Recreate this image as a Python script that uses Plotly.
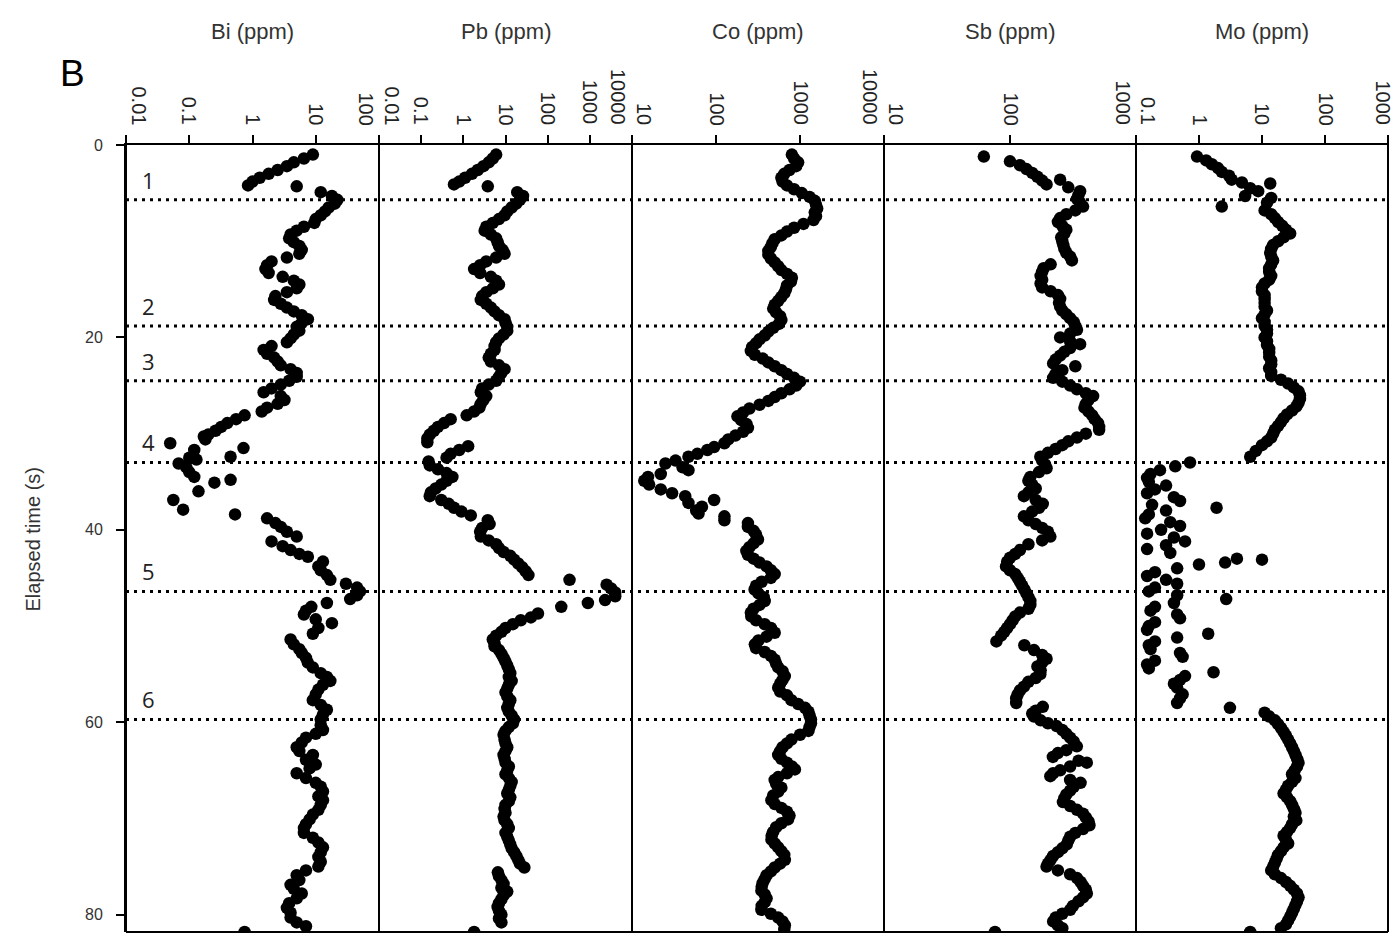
import numpy as np
import plotly.graph_objects as go

# ---------------- data (elapsed time s, concentration ppm) ----------------
bi_t = [1.0,1.4,1.8,2.2,2.6,3.0,3.4,3.8,4.2,4.3,4.9,5.3,5.7,6.1,6.5,6.9,7.3,7.7,8.1,8.5,8.9,9.3,9.7,10.1,10.5,10.9,11.3,11.7,12.1,12.5,12.9,13.3,13.7,14.1,14.5,14.9,15.3,15.7,16.1,16.5,16.9,17.3,17.7,18.1,18.5,18.9,19.3,19.7,20.1,20.5,20.9,21.3,21.7,22.1,22.5,22.9,23.3,23.7,24.1,24.5,24.9,25.3,25.7,26.1,26.5,26.9,27.3,27.7,28.1,28.5,28.9,29.3,29.7,30.1,30.3,30.6,31.0,31.5,31.7,32.4,32.5,32.7,33.1,33.5,34.0,34.5,34.8,35.1,36.0,36.9,37.9,38.4,38.8,39.3,39.7,40.2,40.7,41.2,41.7,42.1,42.5,42.8,43.3,43.8,44.2,44.7,45.2,45.6,46.0,46.4,46.8,47.2,47.6,48.0,48.4,48.8,49.3,49.7,50.2,50.8,51.4,51.9,52.4,52.8,53.3,53.8,54.3,54.9,55.3,55.7,56.1,56.6,57.1,57.7,58.2,58.7,59.2,59.7,60.3,60.8,61.2,61.6,62.1,62.6,63.0,63.4,63.9,64.4,64.8,65.3,65.8,66.3,66.7,67.2,67.7,68.1,68.6,69.1,69.6,70.1,70.6,71.0,71.5,72.0,72.5,73.0,73.5,74.0,74.5,75.0,75.4,75.9,76.4,76.9,77.3,77.8,78.3,78.8,79.3,79.8,80.3,80.8,81.2,81.8]
bi_ppm = [9.0,6.5,4.5,3.5,2.5,1.8,1.3,1.0,0.85,5.0,12,18,22,20,16,14,12,10,9.5,6.5,5.0,4.0,3.8,4.5,5.5,6.0,5.5,3.5,2.0,1.7,1.6,1.8,3.0,4.5,5.5,5.0,3.5,2.3,2.2,2.8,3.5,4.5,6.0,7.5,6.0,5.0,5.5,4.5,4.0,3.5,2.0,1.5,1.7,2.2,2.5,2.8,4.0,5.0,5.0,3.8,2.8,2.0,1.5,2.8,3.2,2.5,1.7,1.4,0.75,0.55,0.4,0.32,0.26,0.2,0.17,0.18,0.05,0.72,0.12,0.45,0.1,0.13,0.068,0.09,0.1,0.12,0.45,0.25,0.14,0.056,0.08,0.53,1.7,2.3,2.8,3.5,5.0,2.0,3.0,4.0,5.5,7.5,13,11,12,15,17,30,45,50,45,35,15,8.5,7.0,6.5,10,18,11,9.0,4.0,4.5,5.5,6.0,7.0,7.5,9.0,12,15,17,13,11,10,9.0,12,15,13,12,12,13,10,7.0,6.0,5.0,5.5,9.0,7.0,10,8.0,5.0,7.0,10,12,13,11,13,12,11,9.0,8.0,7.0,6.5,6.5,9.0,11,13,12,11,12,11,7.0,5.0,5.5,4.0,4.5,6.0,5.0,3.8,3.5,4.0,4.0,5.0,7.0,0.75]

pb_t = [1.0,1.4,1.8,2.2,2.6,3.0,3.4,3.8,4.1,4.3,4.9,5.3,5.7,6.1,6.5,6.9,7.3,7.7,8.1,8.5,8.9,9.3,9.7,10.1,10.5,10.9,11.3,11.7,12.1,12.5,12.9,13.3,13.7,14.1,14.5,14.9,15.3,15.7,16.1,16.5,16.9,17.3,17.7,18.1,18.5,18.9,19.3,19.7,20.1,20.5,20.9,21.3,21.7,22.1,22.5,22.9,23.3,23.7,24.1,24.5,24.9,25.3,25.7,26.1,26.5,26.9,27.3,27.7,28.1,28.5,28.9,29.3,29.7,30.1,30.5,30.9,31.3,31.7,32.1,32.5,32.9,33.3,33.7,34.1,34.5,34.9,35.3,35.7,36.1,36.5,36.9,37.3,37.7,38.1,38.5,39.0,39.4,39.8,40.2,40.7,41.1,41.5,41.9,42.3,42.7,43.1,43.5,43.9,44.3,44.7,45.2,45.7,46.1,46.5,46.9,47.3,47.6,48.0,48.7,49.1,49.4,49.8,50.2,50.6,51.0,51.4,51.8,52.1,52.5,52.9,53.3,53.7,54.1,54.5,54.9,55.3,55.7,56.1,56.5,56.9,57.3,57.7,58.1,58.5,58.9,59.3,59.7,60.1,60.5,60.9,61.3,61.8,62.2,62.6,63.0,63.4,63.8,64.2,64.6,65.0,65.4,65.8,66.2,66.6,67.0,67.4,67.8,68.2,68.6,69.0,69.4,69.8,70.2,70.6,71.0,71.5,71.9,72.3,72.7,73.1,73.5,73.9,74.3,74.7,75.1,75.6,76.0,76.4,76.8,77.2,77.6,78.0,78.4,78.8,79.2,79.6,80.0,80.4,80.8,81.8]
pb_ppm = [6.0,5.0,4.0,3.0,2.2,1.6,1.1,0.8,0.6,3.8,19,26,22,18,14,11,9.5,7.0,5.0,3.5,3.2,4.5,6.0,6.5,7.0,8.5,9.5,6.0,3.5,2.5,1.8,2.5,4.5,6.0,7.0,5.0,3.5,2.8,2.6,3.5,4.5,5.5,7.0,9.5,10,11,11,9.0,7.0,6.0,5.5,5.5,4.5,4.0,4.5,7.0,9.5,8.0,7.0,6.0,4.0,2.8,2.6,3.5,3.0,2.6,2.4,1.8,1.2,0.5,0.35,0.25,0.2,0.16,0.14,0.14,1.3,0.8,0.5,0.4,0.15,0.16,0.25,0.4,0.55,0.4,0.3,0.22,0.17,0.16,0.3,0.45,0.6,0.9,1.5,3.8,4.2,2.8,2.5,2.6,4.0,6.0,7.0,9.0,13,16,20,25,30,35,330,2500,3200,4000,4000,2300,900,210,59,40,23,15,10,8.0,6.0,5.0,5.5,5.5,7.0,8.0,9.0,10,11,12,13,12,14,12,11,10,11,13,12,11,12,14,16,15,12,10,9.0,9.5,10,11,10,9.0,9.5,10,12,11,10,12,14,13,12,11,13,12,10,9.5,10,9.0,9.5,11,12,10,11,12,13,14,16,18,20,22,28,6.6,7.0,8.0,9.0,8.0,11,9.0,8.0,7.0,6.5,7.0,8.0,7.0,8.0,1.8]

co_t = [1.0,1.4,1.8,2.2,2.6,3.0,3.4,3.8,4.2,4.6,5.0,5.4,5.8,6.2,6.6,7.0,7.4,7.8,8.2,8.6,9.0,9.4,9.8,10.2,10.6,11.0,11.4,11.8,12.2,12.6,13.0,13.4,13.8,14.2,14.6,15.0,15.4,15.8,16.2,16.6,17.0,17.4,17.8,18.2,18.6,19.0,19.4,19.8,20.2,20.6,21.0,21.4,21.8,22.2,22.6,23.0,23.4,23.8,24.2,24.6,25.0,25.4,25.8,26.2,26.6,27.0,27.4,27.8,28.2,28.6,29.0,29.4,29.8,30.2,30.6,31.0,31.4,31.7,32.1,32.4,32.8,33.1,33.5,33.8,34.2,34.5,34.9,35.3,35.8,36.2,36.5,36.9,37.2,37.6,38.0,38.3,38.6,39.0,39.3,39.7,40.1,40.5,41.0,41.4,41.8,42.2,42.6,43.0,43.4,43.8,44.2,44.6,45.0,45.4,45.8,46.2,46.6,47.0,47.4,47.8,48.2,48.6,49.0,49.4,49.8,50.2,50.7,51.1,51.5,51.9,52.3,52.7,53.1,53.5,53.9,54.3,54.7,55.2,55.6,56.0,56.4,56.8,57.2,57.7,58.1,58.5,58.9,59.3,59.7,60.1,60.5,60.9,61.3,61.8,62.2,62.6,63.0,63.4,63.8,64.2,64.6,64.9,65.3,65.7,66.0,66.4,66.8,67.2,67.6,68.1,68.5,68.9,69.3,69.7,70.1,70.5,70.9,71.4,71.8,72.2,72.6,73.0,73.4,73.8,74.3,74.7,75.1,75.5,75.9,76.3,76.7,77.1,77.5,77.9,78.3,78.7,79.1,79.5,79.9,80.3,80.7,81.1,81.5]
co_ppm = [800,850,950,900,750,650,600,620,700,850,1050,1300,1500,1550,1600,1500,1550,1450,1100,850,700,600,500,470,450,420,420,450,500,550,600,700,800,780,700,680,650,600,550,500,480,520,580,600,560,480,420,380,330,300,270,260,290,360,420,500,600,700,850,1000,900,750,600,500,420,330,250,210,180,200,230,240,210,170,140,126,95,79,60,47,33,25,40,47,22,15.5,14,16,22,30,43,95,47,68,58,62,126,126,240,240,280,300,316,280,250,230,240,280,330,400,450,500,450,350,300,288,320,370,380,330,280,260,263,300,380,450,500,400,320,290,300,380,450,500,520,550,620,660,620,580,550,580,700,790,950,1150,1260,1300,1350,1350,1300,1260,1000,790,700,620,580,550,600,700,800,870,700,550,500,520,600,550,480,457,500,600,700,750,720,600,520,480,460,457,500,550,600,650,660,580,500,450,400,380,360,350,347,380,400,380,350,347,450,550,620,660,650]

sb_t = [1.2,1.7,2.1,2.5,2.9,3.3,3.6,3.7,4.1,4.4,4.8,5.2,5.6,6.0,6.4,6.8,7.2,7.6,8.0,8.4,8.8,9.2,9.6,10.0,10.4,10.8,11.2,11.6,12.0,12.4,12.8,13.2,13.6,14.0,14.4,14.8,15.2,15.6,16.0,16.4,16.8,17.2,17.6,18.0,18.4,18.8,19.2,19.6,20.0,20.4,20.7,21.1,21.5,21.9,22.3,22.7,23.0,23.4,23.8,24.2,24.6,25.0,25.4,25.8,26.1,26.5,26.9,27.3,27.7,28.1,28.5,28.9,29.3,29.6,30.0,30.4,30.8,31.2,31.6,32.0,32.4,32.8,33.2,33.6,34.0,34.5,34.9,35.3,35.7,36.1,36.5,36.9,37.3,37.7,38.1,38.6,39.0,39.4,39.8,40.2,40.7,41.1,41.5,42.1,42.5,42.9,43.3,43.8,44.2,44.6,45.0,45.4,45.8,46.2,46.6,47.0,47.4,47.8,48.2,48.6,49.0,49.4,49.8,50.2,50.6,51.0,51.6,52.0,52.5,53.0,53.4,53.8,54.2,54.6,55.0,55.4,55.8,56.3,56.7,57.1,57.5,58.0,58.4,58.8,59.1,59.4,59.8,60.1,60.4,60.8,61.2,61.6,62.0,62.5,62.9,63.2,63.6,64.0,64.2,64.6,65.0,65.3,65.6,66.0,66.3,66.7,67.1,67.5,67.9,68.3,68.7,69.1,69.5,69.9,70.3,70.7,71.1,71.5,71.9,72.3,72.7,73.1,73.5,73.9,74.3,74.7,75.0,75.4,75.8,76.2,76.6,77.0,77.4,77.8,78.2,78.6,79.1,79.5,79.9,80.3,80.7,81.1,81.4,81.8]
sb_ppm = [62,100,120,135,150,165,250,180,195,290,360,350,340,360,380,330,280,250,240,260,280,270,255,260,265,270,280,300,310,210,185,180,175,180,175,180,210,240,250,245,250,260,280,300,320,330,340,300,250,300,360,300,270,250,230,220,330,260,230,220,260,300,340,400,457,420,400,390,420,450,470,500,510,510,400,340,290,260,230,200,174,180,190,195,170,145,140,150,160,140,129,160,182,170,150,129,140,160,180,200,209,180,140,120,110,100,95,93,100,110,115,120,125,130,135,140,145,145,140,120,110,105,100,95,90,85,78,130,155,180,195,180,165,175,174,160,140,129,120,115,112,112,182,160,150,155,175,200,234,260,280,300,320,339,280,240,219,350,407,300,250,220,209,300,363,320,300,280,270,263,300,340,380,400,420,427,380,330,300,290,282,260,240,220,210,200,195,240,300,340,363,380,400,407,380,350,316,300,260,230,220,240,260,76]

mo_t = [1.2,1.6,2.0,2.4,2.8,3.2,3.6,3.9,4.0,4.5,4.8,5.3,5.5,6.0,6.4,6.8,7.2,7.6,8.0,8.4,8.8,9.2,9.6,10.0,10.4,10.8,11.2,11.6,12.0,12.4,12.8,13.2,13.6,14.0,14.4,14.8,15.2,15.6,16.0,16.4,16.8,17.2,17.6,18.0,18.4,18.8,19.2,19.6,20.0,20.4,20.8,21.2,21.6,22.0,22.4,22.8,23.2,23.6,24.0,24.4,24.8,25.2,25.6,26.0,26.4,26.8,27.2,27.6,28.0,28.4,28.8,29.2,29.6,30.0,30.4,30.8,31.2,31.8,32.4,33.0,33.4,33.8,34.2,34.6,35.0,35.4,35.8,36.2,36.6,37.0,37.4,37.7,38.0,38.4,38.8,39.2,39.6,40.0,40.4,40.8,41.2,41.6,42.0,42.4,43.0,43.1,43.4,43.6,44.0,44.4,44.8,45.2,45.6,46.0,46.4,46.8,47.2,47.6,48.0,48.4,48.8,49.2,49.6,50.0,50.4,50.8,51.2,51.6,52.0,52.4,52.8,53.2,53.6,54.0,54.4,54.8,55.2,55.6,56.0,56.4,57.1,57.5,58.0,58.5,59.0,59.4,59.8,60.2,60.6,61.0,61.4,61.8,62.2,62.6,63.0,63.4,63.8,64.2,64.6,65.0,65.4,65.8,66.2,66.6,67.0,67.4,67.8,68.2,68.6,69.0,69.4,69.8,70.2,70.6,71.0,71.4,71.8,72.2,72.6,73.0,73.4,73.8,74.2,74.6,75.0,75.4,75.8,76.2,76.6,77.0,77.4,77.8,78.2,78.6,79.0,79.4,79.8,80.2,80.6,81.0,81.4,81.8]
mo_ppm = [0.93,1.3,1.6,2.0,2.3,3.0,3.3,4.8,13.5,6.5,8.7,5.4,14,12,2.3,11,14,16,18,21,24,28,22,18,15,14,13.5,14,15,14,13,13,14,13,11,10,10,11,11,11,11,12,11,10,11,11,12,12,11,12,12,13,13,13,14,14,13,14,14,20,26,32,38,40,40,38,35,30,25,22,20,18,16,15,14,12,10,8.0,6.5,0.72,0.42,0.24,0.17,0.15,0.16,0.3,0.2,0.15,0.4,0.5,0.18,1.9,0.3,0.16,0.14,0.35,0.5,0.25,0.15,0.4,0.6,0.3,0.15,0.35,4.0,10,2.6,1.0,0.45,0.2,0.15,0.3,0.45,0.2,0.16,0.45,2.7,0.4,0.2,0.17,0.45,0.5,0.2,0.16,0.15,1.4,0.45,0.2,0.16,0.17,0.5,0.55,0.2,0.15,0.16,1.7,0.6,0.5,0.4,0.45,0.55,0.5,0.45,3.1,11,13,16,18,20,22,24,26,28,30,32,34,36,38,36,33,30,34,30,26,24,22,25,28,30,32,34,32,35,30,28,25,22,24,26,22,20,18,17,16,15,14,16,20,24,28,32,36,38,36,34,32,30,28,26,24,20,6.5]

# boundaries between ablation intervals (s) and their numbers
boundaries = [5.7, 18.8, 24.5, 33.0, 46.4, 59.7]
interval_labels = ["1", "2", "3", "4", "5", "6"]

elements = ["Bi (ppm)", "Pb (ppm)", "Co (ppm)", "Sb (ppm)", "Mo (ppm)"]
series_t = [bi_t, pb_t, co_t, sb_t, mo_t]
series_v = [bi_ppm, pb_ppm, co_ppm, sb_ppm, mo_ppm]
tick_vals = [[0.01, 0.1, 1, 10, 100],
             [0.01, 0.1, 1, 10, 100, 1000, 10000],
             [10, 100, 1000, 10000],
             [10, 100, 1000],
             [0.1, 1, 10, 100, 1000]]
tick_text = [["0.01", "0.1", "1", "10", "100"],
             ["0.01", "0.1", "1", "10", "100", "1000", "10000"],
             ["10", "100", "1000", "10000"],
             ["10", "100", "1000"],
             ["0.1", "1", "10", "100", "1000"]]
y_ticks = [0, 20, 40, 60, 80]

for tt, vv in zip(series_t, series_v):
    assert len(tt) == len(vv), (len(tt), len(vv))

# ---------------- layout geometry ----------------
W, H = 1393, 937
ML, MR, MT, MB = 126, 5, 145, 5
PW, PH = W - ML - MR, H - MT - MB
edges_px = [126, 379, 632, 884, 1136, 1388]
domains = [[(edges_px[i] - ML) / PW, (edges_px[i + 1] - ML) / PW] for i in range(5)]

FONT = "Liberation Sans, Arial, sans-serif"
fig = go.Figure()
annotations = []
shapes = []

for i in range(5):
    xa = "x" if i == 0 else f"x{i+1}"
    lname = "xaxis" if i == 0 else f"xaxis{i+1}"
    fig.add_trace(go.Scatter(x=series_v[i], y=series_t[i], mode="markers", xaxis=xa, yaxis="y",
                             marker=dict(size=12.5, color="black", line=dict(width=0)),
                             showlegend=False, hoverinfo="skip"))
    lo, hi = np.log10(tick_vals[i][0]), np.log10(tick_vals[i][-1])
    fig.update_layout({lname: dict(type="log", domain=domains[i], range=[lo, hi], anchor="y", side="top",
                                   tickvals=tick_vals[i], showticklabels=False, ticks="outside", ticklen=8,
                                   tickwidth=1.5, tickcolor="black", showline=True, linewidth=2,
                                   linecolor="black", showgrid=False, zeroline=False, fixedrange=True)})
    # tick labels (rotated) placed with the axis scale
    n = len(tick_vals[i])
    for j, (v, t) in enumerate(zip(tick_vals[i], tick_text[i])):
        shift = 0
        if j == 0:
            shift = 12
        elif j == n - 1:
            shift = -14 if i < 4 else -6
        annotations.append(dict(x=np.log10(v), xref=xa, y=1 + 18 / PH, yref="paper", text=t,
                                textangle=90, showarrow=False, xanchor="center", yanchor="bottom",
                                xshift=shift, font=dict(family=FONT, size=20, color="#222")))
    # element title
    annotations.append(dict(x=(domains[i][0] + domains[i][1]) / 2, xref="paper", y=1 + (MT - 31) / PH,
                            yref="paper", text=elements[i], showarrow=False, xanchor="center",
                            yanchor="middle", font=dict(family=FONT, size=22, color="#333")))

# panel edges (extend slightly above the top axis)
for e in edges_px:
    xp = (e - ML) / PW
    shapes.append(dict(type="line", xref="paper", yref="paper", x0=xp, x1=xp, y0=0, y1=1 + 8 / PH,
                       line=dict(color="black", width=2)))
shapes.append(dict(type="line", xref="paper", yref="paper", x0=0, x1=1, y0=0, y1=0,
                   line=dict(color="black", width=2)))

# dotted interval boundaries and their numbers
for b, lab in zip(boundaries, interval_labels):
    shapes.append(dict(type="line", xref="paper", yref="y", x0=0, x1=1, y0=b, y1=b,
                       line=dict(color="black", width=3, dash="3px,5px")))
    annotations.append(dict(x=(148 - ML) / PW, xref="paper", y=b, yref="y", text=lab, showarrow=False,
                            xanchor="center", yanchor="bottom", yshift=3,
                            font=dict(family="Open Sans, sans-serif", size=22, color="#222")))

annotations.append(dict(x=(72 - ML) / PW, xref="paper", y=1 + (MT - 73) / PH, yref="paper", text="B",
                        showarrow=False, xanchor="center", yanchor="middle",
                        font=dict(family=FONT, size=37, color="black")))
annotations.append(dict(x=(32 - ML) / PW, xref="paper", y=0.5, yref="paper", text="Elapsed time (s)",
                        textangle=-90, showarrow=False, xanchor="center", yanchor="middle",
                        font=dict(family=FONT, size=20, color="#333")))

fig.update_layout(
    width=W, height=H, margin=dict(l=ML, r=MR, t=MT, b=MB),
    paper_bgcolor="white", plot_bgcolor="white", showlegend=False,
    yaxis=dict(range=[81.8, 0], domain=[0, 1], anchor="x", tickvals=y_ticks, ticks="outside", ticklen=8,
               tickwidth=1.5, tickcolor="black", showline=True, linewidth=2, linecolor="black",
               showgrid=False, zeroline=False, ticklabelstandoff=10,
               tickfont=dict(family=FONT, size=16, color="#333"), fixedrange=True),
    annotations=annotations, shapes=shapes,
)

fig.write_html("out.html")
